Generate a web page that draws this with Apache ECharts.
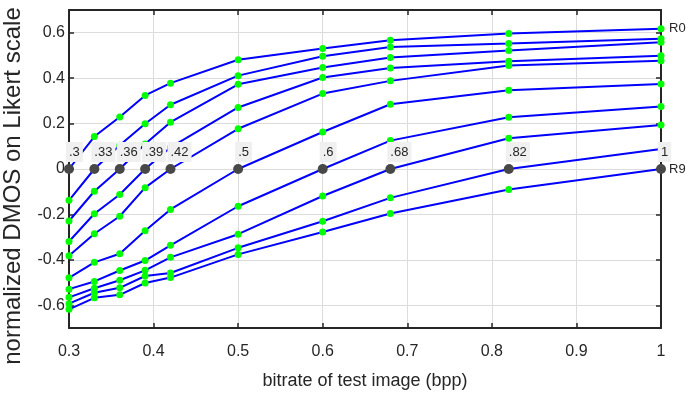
<!DOCTYPE html>
<html>
<head>
<meta charset="utf-8">
<script src="https://cdn.jsdelivr.net/npm/echarts@6/dist/echarts.min.js"></script>
<style>html,body{margin:0;padding:0;background:#fff}#c{width:686px;height:396px}</style>
</head>
<body>
<div id="c"></div>
<script>
const bitrates = [0.3, 0.33, 0.36, 0.39, 0.42, 0.5, 0.6, 0.68, 0.82, 1];
const refLabels = ['.3', '.33', '.36', '.39', '.42', '.5', '.6', '.68', '.82', '1'];
const seriesNames = ['R0', 'R1', 'R2', 'R3', 'R4', 'R5', 'R6', 'R7', 'R8', 'R9'];
const R0 = [0, 0.143, 0.229, 0.324, 0.378, 0.481, 0.530, 0.567, 0.596, 0.618];
const R1 = [-0.138, 0, 0.105, 0.199, 0.283, 0.411, 0.496, 0.537, 0.552, 0.573];
const R2 = [-0.229, -0.098, 0, 0.110, 0.206, 0.373, 0.447, 0.491, 0.522, 0.558];
const R3 = [-0.319, -0.197, -0.112, 0, 0.095, 0.271, 0.403, 0.445, 0.474, 0.499];
const R4 = [-0.382, -0.285, -0.208, -0.082, 0, 0.177, 0.332, 0.388, 0.456, 0.477];
const R5 = [-0.479, -0.411, -0.373, -0.272, -0.178, 0, 0.163, 0.285, 0.347, 0.374];
const R6 = [-0.529, -0.495, -0.447, -0.403, -0.336, -0.164, 0, 0.125, 0.228, 0.275];
const R7 = [-0.565, -0.525, -0.490, -0.446, -0.389, -0.287, -0.119, 0, 0.135, 0.194];
const R8 = [-0.593, -0.545, -0.523, -0.471, -0.458, -0.347, -0.230, -0.127, 0, 0.088];
const R9 = [-0.618, -0.567, -0.554, -0.502, -0.478, -0.376, -0.277, -0.196, -0.090, 0];
const xTicks = [0.3, 0.4, 0.5, 0.6, 0.7, 0.8, 0.9, 1];
const yTicks = [-0.6, -0.4, -0.2, 0, 0.2, 0.4, 0.6];
const xTitle = 'bitrate of test image (bpp)';
const yTitle = 'normalized DMOS on Likert scale';

const allSeries = [R0, R1, R2, R3, R4, R5, R6, R7, R8, R9];
const FONT = "'Liberation Sans', Arial, sans-serif";
const INK = '#262626';

const lineSeries = allSeries.map((vals, k) => ({
  type: 'line',
  name: seriesNames[k],
  data: vals.map((v, i) => [bitrates[i], v]),
  symbol: 'circle',
  symbolSize: 7,
  showAllSymbol: true,
  lineStyle: { color: '#0000ff', width: 2 },
  itemStyle: { color: '#00ff00', borderWidth: 0, opacity: 1 },
  endLabel: (k === 0 || k === allSeries.length - 1) ? {
    show: true, formatter: seriesNames[k], distance: 8,
    color: INK, fontSize: 13, fontFamily: FONT
  } : { show: false },
  z: 2
}));

const refPoints = allSeries.map((vals, k) => {
  const i = vals.indexOf(0);
  return { value: [bitrates[i], vals[i]], label: { formatter: refLabels[i] } };
});

const axisCommon = {
  type: 'value',
  axisLine: { show: true, onZero: false, lineStyle: { color: INK, width: 2 } },
  axisTick: { show: true, inside: true, length: 5, lineStyle: { color: INK, width: 1.5 } },
};

const option = {
  animation: false,
  backgroundColor: '#ffffff',
  grid: { left: 69, right: 25, top: 10, bottom: 68, containLabel: false, outerBoundsMode: 'none' },
  xAxis: [
    Object.assign({}, axisCommon, {
      position: 'bottom', min: 0.3, max: 1,
      axisTick: Object.assign({}, axisCommon.axisTick, { customValues: xTicks }),
      axisLabel: { customValues: xTicks, color: INK, fontSize: 16, fontFamily: FONT, margin: 16 },
      splitLine: { show: true, lineStyle: { color: '#dcdcdc', width: 1 } },
      name: xTitle, nameLocation: 'middle', nameGap: 44,
      nameTextStyle: { color: INK, fontSize: 18, fontFamily: FONT }
    }),
    Object.assign({}, axisCommon, {
      position: 'top', min: 0.3, max: 1,
      axisTick: Object.assign({}, axisCommon.axisTick, { customValues: xTicks }),
      axisLabel: { show: false },
      splitLine: { show: false }
    })
  ],
  yAxis: [
    Object.assign({}, axisCommon, {
      position: 'left', min: -0.7, max: 0.7,
      axisTick: Object.assign({}, axisCommon.axisTick, { customValues: yTicks }),
      axisLabel: { customValues: yTicks, color: INK, fontSize: 16, fontFamily: FONT, margin: 4 },
      splitLine: { show: true, lineStyle: { color: '#dcdcdc', width: 1 } },
      name: yTitle, nameLocation: 'middle', nameGap: 44,
      nameTextStyle: { color: INK, fontSize: 24, fontFamily: FONT, padding: [0, 34, 0, 0] }
    }),
    Object.assign({}, axisCommon, {
      position: 'right', min: -0.7, max: 0.7,
      axisTick: Object.assign({}, axisCommon.axisTick, { customValues: yTicks }),
      axisLabel: { show: false },
      splitLine: { show: false }
    })
  ],
  series: lineSeries.concat([{
    type: 'scatter',
    data: refPoints,
    symbol: 'circle',
    symbolSize: 10,
    zlevel: 1,
    z: 10,
    itemStyle: { color: '#484848', opacity: 1 },
    label: {
      show: true,
      position: [2, -12],
      align: 'left',
      verticalAlign: 'middle',
      color: INK,
      opacity: 1,
      fontSize: 13,
      fontFamily: FONT,
      backgroundColor: '#f0f0f0',
      padding: [4, 3, 3, 3]
    }
  }])
};

const chart = echarts.init(document.getElementById('c'), null, { renderer: 'canvas' });
chart.setOption(option);
</script>
</body>
</html>
